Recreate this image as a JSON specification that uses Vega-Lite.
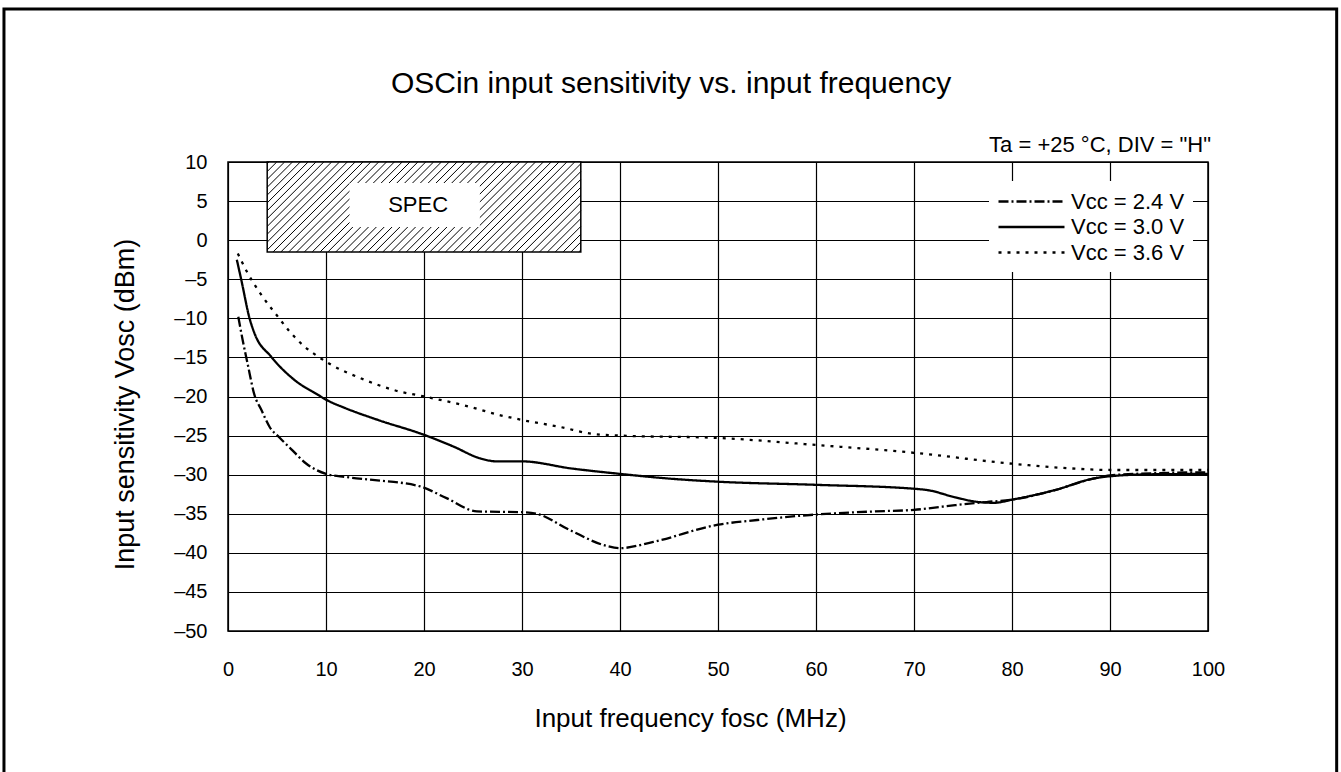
{
  "$schema": "https://vega.github.io/schema/vega-lite/v6.json",
  "width": 980,
  "height": 469,
  "autosize": {"type": "none"},
  "padding": {"left": 228, "top": 162, "right": 133, "bottom": 141},
  "background": "white",
  "config": {
    "font": "Liberation Sans",
    "view": {"stroke": "black", "strokeWidth": 1.5},
    "axis": {"grid": true, "gridColor": "black", "gridOpacity": 1, "gridWidth": 1.2, "ticks": false, "domain": false, "labelColor": "black", "titleColor": "black", "labelFont": "Liberation Sans", "titleFont": "Liberation Sans", "titleFontWeight": "normal", "labelFontSize": 20, "titleFontSize": 26, "labelOverlap": false, "labelFlush": false},
    "axisY": {"tickCount": 20, "titleFontSize": 27}
  },
  "title": {"text": "OSCin input sensitivity vs. input frequency", "fontSize": 30, "fontWeight": "normal", "font": "Liberation Sans", "color": "black", "anchor": "middle", "frame": "group", "baseline": "bottom", "dx": -47, "offset": -121},
  "datasets": {
    "curves": [
      {"series": "Vcc = 3.6 V", "f": 1.0, "v": -1.7},
      {"series": "Vcc = 3.6 V", "f": 2.0, "v": -4.2},
      {"series": "Vcc = 3.6 V", "f": 3.4, "v": -7.0},
      {"series": "Vcc = 3.6 V", "f": 5.1, "v": -9.8},
      {"series": "Vcc = 3.6 V", "f": 6.3, "v": -11.7},
      {"series": "Vcc = 3.6 V", "f": 7.8, "v": -13.6},
      {"series": "Vcc = 3.6 V", "f": 9.2, "v": -14.9},
      {"series": "Vcc = 3.6 V", "f": 10.2, "v": -15.7},
      {"series": "Vcc = 3.6 V", "f": 13.6, "v": -17.7},
      {"series": "Vcc = 3.6 V", "f": 17.0, "v": -19.2},
      {"series": "Vcc = 3.6 V", "f": 20.0, "v": -20.0},
      {"series": "Vcc = 3.6 V", "f": 24.0, "v": -21.1},
      {"series": "Vcc = 3.6 V", "f": 27.8, "v": -22.4},
      {"series": "Vcc = 3.6 V", "f": 30.0, "v": -23.0},
      {"series": "Vcc = 3.6 V", "f": 33.9, "v": -23.9},
      {"series": "Vcc = 3.6 V", "f": 37.3, "v": -24.8},
      {"series": "Vcc = 3.6 V", "f": 40.0, "v": -25.0},
      {"series": "Vcc = 3.6 V", "f": 50.0, "v": -25.3},
      {"series": "Vcc = 3.6 V", "f": 60.0, "v": -26.2},
      {"series": "Vcc = 3.6 V", "f": 70.0, "v": -27.2},
      {"series": "Vcc = 3.6 V", "f": 80.0, "v": -28.6},
      {"series": "Vcc = 3.6 V", "f": 86.0, "v": -29.2},
      {"series": "Vcc = 3.6 V", "f": 90.0, "v": -29.4},
      {"series": "Vcc = 3.6 V", "f": 100.0, "v": -29.4},
      {"series": "Vcc = 3.0 V", "f": 0.9, "v": -2.5},
      {"series": "Vcc = 3.0 V", "f": 1.36, "v": -5.1},
      {"series": "Vcc = 3.0 V", "f": 2.2, "v": -10.0},
      {"series": "Vcc = 3.0 V", "f": 2.7, "v": -11.9},
      {"series": "Vcc = 3.0 V", "f": 4.4, "v": -14.9},
      {"series": "Vcc = 3.0 V", "f": 6.8, "v": -17.9},
      {"series": "Vcc = 3.0 V", "f": 9.2, "v": -19.8},
      {"series": "Vcc = 3.0 V", "f": 10.0, "v": -20.4},
      {"series": "Vcc = 3.0 V", "f": 12.0, "v": -21.5},
      {"series": "Vcc = 3.0 V", "f": 15.3, "v": -23.0},
      {"series": "Vcc = 3.0 V", "f": 20.0, "v": -24.9},
      {"series": "Vcc = 3.0 V", "f": 23.0, "v": -26.4},
      {"series": "Vcc = 3.0 V", "f": 25.7, "v": -27.9},
      {"series": "Vcc = 3.0 V", "f": 27.4, "v": -28.3},
      {"series": "Vcc = 3.0 V", "f": 30.0, "v": -28.3},
      {"series": "Vcc = 3.0 V", "f": 35.0, "v": -29.2},
      {"series": "Vcc = 3.0 V", "f": 40.0, "v": -29.9},
      {"series": "Vcc = 3.0 V", "f": 45.0, "v": -30.5},
      {"series": "Vcc = 3.0 V", "f": 50.0, "v": -30.9},
      {"series": "Vcc = 3.0 V", "f": 60.0, "v": -31.3},
      {"series": "Vcc = 3.0 V", "f": 70.0, "v": -31.8},
      {"series": "Vcc = 3.0 V", "f": 71.5, "v": -32.0},
      {"series": "Vcc = 3.0 V", "f": 74.2, "v": -32.9},
      {"series": "Vcc = 3.0 V", "f": 76.6, "v": -33.5},
      {"series": "Vcc = 3.0 V", "f": 78.2, "v": -33.6},
      {"series": "Vcc = 3.0 V", "f": 80.0, "v": -33.2},
      {"series": "Vcc = 3.0 V", "f": 84.3, "v": -32.0},
      {"series": "Vcc = 3.0 V", "f": 88.3, "v": -30.5},
      {"series": "Vcc = 3.0 V", "f": 90.0, "v": -30.2},
      {"series": "Vcc = 3.0 V", "f": 94.3, "v": -29.95},
      {"series": "Vcc = 3.0 V", "f": 100.0, "v": -29.9},
      {"series": "Vcc = 2.4 V", "f": 1.05, "v": -9.8},
      {"series": "Vcc = 2.4 V", "f": 1.5, "v": -12.8},
      {"series": "Vcc = 2.4 V", "f": 2.0, "v": -15.8},
      {"series": "Vcc = 2.4 V", "f": 2.7, "v": -19.8},
      {"series": "Vcc = 2.4 V", "f": 3.4, "v": -21.7},
      {"series": "Vcc = 2.4 V", "f": 4.25, "v": -23.9},
      {"series": "Vcc = 2.4 V", "f": 5.3, "v": -25.3},
      {"series": "Vcc = 2.4 V", "f": 6.5, "v": -26.8},
      {"series": "Vcc = 2.4 V", "f": 8.0, "v": -28.6},
      {"series": "Vcc = 2.4 V", "f": 10.0, "v": -29.9},
      {"series": "Vcc = 2.4 V", "f": 12.0, "v": -30.3},
      {"series": "Vcc = 2.4 V", "f": 15.0, "v": -30.7},
      {"series": "Vcc = 2.4 V", "f": 19.6, "v": -31.5},
      {"series": "Vcc = 2.4 V", "f": 22.3, "v": -33.0},
      {"series": "Vcc = 2.4 V", "f": 25.4, "v": -34.7},
      {"series": "Vcc = 2.4 V", "f": 30.0, "v": -34.8},
      {"series": "Vcc = 2.4 V", "f": 31.5, "v": -35.0},
      {"series": "Vcc = 2.4 V", "f": 34.9, "v": -37.1},
      {"series": "Vcc = 2.4 V", "f": 38.6, "v": -39.1},
      {"series": "Vcc = 2.4 V", "f": 40.0, "v": -39.4},
      {"series": "Vcc = 2.4 V", "f": 43.4, "v": -38.6},
      {"series": "Vcc = 2.4 V", "f": 50.0, "v": -36.4},
      {"series": "Vcc = 2.4 V", "f": 54.0, "v": -35.8},
      {"series": "Vcc = 2.4 V", "f": 60.0, "v": -35.1},
      {"series": "Vcc = 2.4 V", "f": 66.0, "v": -34.7},
      {"series": "Vcc = 2.4 V", "f": 70.0, "v": -34.5},
      {"series": "Vcc = 2.4 V", "f": 74.2, "v": -33.9},
      {"series": "Vcc = 2.4 V", "f": 77.4, "v": -33.5},
      {"series": "Vcc = 2.4 V", "f": 80.0, "v": -33.2},
      {"series": "Vcc = 2.4 V", "f": 84.3, "v": -32.0},
      {"series": "Vcc = 2.4 V", "f": 88.3, "v": -30.5},
      {"series": "Vcc = 2.4 V", "f": 90.0, "v": -30.1},
      {"series": "Vcc = 2.4 V", "f": 95.0, "v": -29.8},
      {"series": "Vcc = 2.4 V", "f": 100.0, "v": -29.7}
    ],
    "hatch": [
      {"x1": 4, "y1": 9.78, "x2": 4.173, "y2": 10},
      {"x1": 4, "y1": 8.78, "x2": 4.973, "y2": 10},
      {"x1": 4, "y1": 7.78, "x2": 5.773, "y2": 10},
      {"x1": 4, "y1": 6.77, "x2": 6.573, "y2": 10},
      {"x1": 4, "y1": 5.77, "x2": 7.373, "y2": 10},
      {"x1": 4, "y1": 4.77, "x2": 8.173, "y2": 10},
      {"x1": 4, "y1": 3.77, "x2": 8.973, "y2": 10},
      {"x1": 4, "y1": 2.76, "x2": 9.773, "y2": 10},
      {"x1": 4, "y1": 1.76, "x2": 10.573, "y2": 10},
      {"x1": 4, "y1": 0.76, "x2": 11.373, "y2": 10},
      {"x1": 4, "y1": -0.25, "x2": 12.173, "y2": 10},
      {"x1": 4, "y1": -1.25, "x2": 12.973, "y2": 10},
      {"x1": 4.6, "y1": -1.5, "x2": 13.773, "y2": 10},
      {"x1": 5.4, "y1": -1.5, "x2": 14.573, "y2": 10},
      {"x1": 6.2, "y1": -1.5, "x2": 15.373, "y2": 10},
      {"x1": 7.0, "y1": -1.5, "x2": 16.173, "y2": 10},
      {"x1": 7.8, "y1": -1.5, "x2": 16.973, "y2": 10},
      {"x1": 8.6, "y1": -1.5, "x2": 17.773, "y2": 10},
      {"x1": 9.4, "y1": -1.5, "x2": 18.573, "y2": 10},
      {"x1": 10.2, "y1": -1.5, "x2": 19.373, "y2": 10},
      {"x1": 11.0, "y1": -1.5, "x2": 20.173, "y2": 10},
      {"x1": 11.8, "y1": -1.5, "x2": 20.973, "y2": 10},
      {"x1": 12.6, "y1": -1.5, "x2": 21.773, "y2": 10},
      {"x1": 13.4, "y1": -1.5, "x2": 22.573, "y2": 10},
      {"x1": 14.2, "y1": -1.5, "x2": 23.373, "y2": 10},
      {"x1": 15.0, "y1": -1.5, "x2": 24.173, "y2": 10},
      {"x1": 15.8, "y1": -1.5, "x2": 24.973, "y2": 10},
      {"x1": 16.6, "y1": -1.5, "x2": 25.773, "y2": 10},
      {"x1": 17.4, "y1": -1.5, "x2": 26.573, "y2": 10},
      {"x1": 18.2, "y1": -1.5, "x2": 27.373, "y2": 10},
      {"x1": 19.0, "y1": -1.5, "x2": 28.173, "y2": 10},
      {"x1": 19.8, "y1": -1.5, "x2": 28.973, "y2": 10},
      {"x1": 20.6, "y1": -1.5, "x2": 29.773, "y2": 10},
      {"x1": 21.4, "y1": -1.5, "x2": 30.573, "y2": 10},
      {"x1": 22.2, "y1": -1.5, "x2": 31.373, "y2": 10},
      {"x1": 23.0, "y1": -1.5, "x2": 32.173, "y2": 10},
      {"x1": 23.8, "y1": -1.5, "x2": 32.973, "y2": 10},
      {"x1": 24.6, "y1": -1.5, "x2": 33.773, "y2": 10},
      {"x1": 25.4, "y1": -1.5, "x2": 34.573, "y2": 10},
      {"x1": 26.2, "y1": -1.5, "x2": 35.373, "y2": 10},
      {"x1": 27.0, "y1": -1.5, "x2": 36, "y2": 9.78},
      {"x1": 27.8, "y1": -1.5, "x2": 36, "y2": 8.78},
      {"x1": 28.6, "y1": -1.5, "x2": 36, "y2": 7.78},
      {"x1": 29.4, "y1": -1.5, "x2": 36, "y2": 6.77},
      {"x1": 30.2, "y1": -1.5, "x2": 36, "y2": 5.77},
      {"x1": 31.0, "y1": -1.5, "x2": 36, "y2": 4.77},
      {"x1": 31.8, "y1": -1.5, "x2": 36, "y2": 3.77},
      {"x1": 32.6, "y1": -1.5, "x2": 36, "y2": 2.76},
      {"x1": 33.4, "y1": -1.5, "x2": 36, "y2": 1.76},
      {"x1": 34.2, "y1": -1.5, "x2": 36, "y2": 0.76},
      {"x1": 35.0, "y1": -1.5, "x2": 36, "y2": -0.25},
      {"x1": 35.8, "y1": -1.5, "x2": 36, "y2": -1.25}
    ]
  },
  "layer": [
    {
      "data": {"name": "curves"},
      "mark": {"type": "line", "color": "black", "strokeWidth": 2.3, "interpolate": "monotone"},
      "encoding": {
        "x": {"field": "f", "type": "quantitative", "scale": {"domain": [0, 100], "nice": false, "zero": false}, "title": "Input frequency fosc (MHz)", "axis": {"values": [0, 10, 20, 30, 40, 50, 60, 70, 80, 90, 100], "labelPadding": 28, "titlePadding": 26, "titleX": 462, "titleAlign": "center"}},
        "y": {"field": "v", "type": "quantitative", "scale": {"domain": [-50, 10], "nice": false, "zero": false}, "title": "Input sensitivity Vosc (dBm)", "axis": {"values": [-50, -45, -40, -35, -30, -25, -20, -15, -10, -5, 0, 5, 10], "tickCount": 20, "labelPadding": 21, "titlePadding": 34, "titleY": 242, "titleAlign": "center", "labelExpr": "datum.value < 0 ? '–' + abs(datum.value) : datum.label"}},
        "strokeDash": {
          "field": "series", "type": "nominal",
          "scale": {"domain": ["Vcc = 2.4 V", "Vcc = 3.0 V", "Vcc = 3.6 V"], "range": [[10, 3, 2, 3], [1, 0], [3, 6]]},
          "legend": {"title": null, "orient": "none", "legendX": 761, "legendY": 19, "fillColor": "white", "padding": 8, "symbolType": "M-1,0L5,0", "symbolSize": 484, "symbolStrokeWidth": 2.3, "symbolStrokeColor": "black", "labelFontSize": 22, "labelOffset": 49, "rowPadding": 1.5, "labelFont": "Liberation Sans", "labelColor": "black", "labelLimit": 0}
        }
      }
    },
    {
      "data": {"values": [{"label": "SPEC"}]},
      "mark": {"type": "rect", "fill": "white", "stroke": "black", "strokeWidth": 1.5},
      "encoding": {
        "x": {"datum": 4, "type": "quantitative", "title": "Input frequency fosc (MHz)"},
        "x2": {"datum": 36},
        "y": {"datum": -1.5, "type": "quantitative", "title": "Input sensitivity Vosc (dBm)"},
        "y2": {"datum": 10}
      }
    },
    {
      "data": {"name": "hatch"},
      "mark": {"type": "rule", "stroke": "black", "strokeWidth": 1},
      "encoding": {
        "x": {"field": "x1", "type": "quantitative", "title": "Input frequency fosc (MHz)"},
        "x2": {"field": "x2"},
        "y": {"field": "y1", "type": "quantitative", "title": "Input sensitivity Vosc (dBm)"},
        "y2": {"field": "y2"}
      }
    },
    {
      "data": {"values": [{"label": "SPEC"}]},
      "mark": {"type": "rect", "fill": "white", "strokeWidth": 0},
      "encoding": {
        "x": {"datum": 12.4, "type": "quantitative", "title": "Input frequency fosc (MHz)"},
        "x2": {"datum": 25.7},
        "y": {"datum": 1.7, "type": "quantitative", "title": "Input sensitivity Vosc (dBm)"},
        "y2": {"datum": 7.3}
      }
    },
    {
      "data": {"values": [{"label": "SPEC"}]},
      "mark": {"type": "text", "fontSize": 22, "font": "Liberation Sans", "color": "black", "align": "center", "baseline": "middle"},
      "encoding": {
        "x": {"datum": 19.4, "type": "quantitative", "title": "Input frequency fosc (MHz)"},
        "y": {"datum": 4.5, "type": "quantitative", "title": "Input sensitivity Vosc (dBm)"},
        "text": {"field": "label"}
      }
    },
    {
      "data": {"values": [{"note": "Ta = +25 °C, DIV = \"H\""}]},
      "mark": {"type": "text", "fontSize": 22, "font": "Liberation Sans", "color": "black", "align": "right", "baseline": "middle", "dy": -17, "dx": 3},
      "encoding": {
        "x": {"datum": 100, "type": "quantitative", "title": "Input frequency fosc (MHz)"},
        "y": {"datum": 10, "type": "quantitative", "title": "Input sensitivity Vosc (dBm)"},
        "text": {"field": "note"}
      }
    },
    {
      "data": {"values": [{"frame": 1}]},
      "mark": {"type": "rect", "filled": false, "stroke": "black", "strokeWidth": 3, "clip": false},
      "encoding": {
        "x": {"datum": -22.86, "type": "quantitative", "title": "Input frequency fosc (MHz)"},
        "x2": {"datum": 113.13},
        "y": {"datum": -69, "type": "quantitative", "title": "Input sensitivity Vosc (dBm)"},
        "y2": {"datum": 29.57}
      }
    }
  ]
}
